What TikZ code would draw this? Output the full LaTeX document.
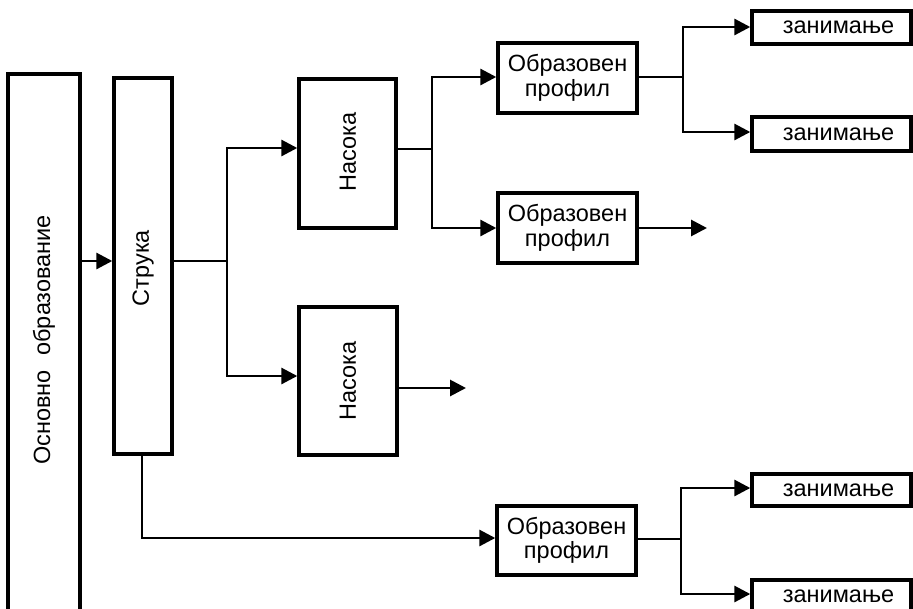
\documentclass[tikz,border=0pt]{standalone}
\usepackage{fontspec}
\setmainfont{Liberation Sans}
\usetikzlibrary{arrows.meta}
\tikzset{
  box/.style={draw, line width=3.4pt, inner sep=0pt, align=center,
    font=\fontsize{23.5}{24.5}\selectfont},
  lbl/.style={inner sep=0pt, font=\fontsize{23.5}{24.5}\selectfont},
  conn/.style={line width=2.9pt},
  arr/.style={line width=2.9pt, -{Triangle[length=16pt,width=16pt]}},
}
\begin{document}
\begin{tikzpicture}[x=1pt,y=-1pt]
\useasboundingbox (0,0) rectangle (913,608);
\clip (0,0) rectangle (913,608);
\fill[white] (0,0) rectangle (913,608);
% boxes
\node[box, minimum width=72pt, minimum height=546pt] (base) at (44,347) {};
\node[lbl, rotate=90] (baselbl) at (44,340) {Основно\hspace{0.35em} образование};
\node[box, minimum width=58pt, minimum height=376pt] (struka) at (143,266) {};
\node[lbl, rotate=90] (strukalbl) at (143,268) {Струка};
\node[box, minimum width=97pt, minimum height=149pt] (nas1) at (347.5,153.5) {};
\node[lbl, rotate=90] (nas1lbl) at (348,152) {Насока};
\node[box, minimum width=98pt, minimum height=148pt] (nas2) at (348,381) {};
\node[lbl, rotate=90] (nas2lbl) at (348,381) {Насока};
\node[box, minimum width=139pt, minimum height=70pt] (op1) at (567.5,78) {Образовен\\профил};
\node[box, minimum width=139pt, minimum height=70pt] (op2) at (567.5,228) {Образовен\\профил};
\node[box, minimum width=139pt, minimum height=69pt] (op3) at (566.5,540.5) {Образовен\\профил};
\node[box, minimum width=159pt, minimum height=33pt] (z1) at (831.5,27.5) {\hspace{14pt}занимање};
\node[box, minimum width=159pt, minimum height=34pt] (z2) at (831.5,134) {\hspace{14pt}занимање};
\node[box, minimum width=159pt, minimum height=32pt] (z3) at (831.5,490) {\hspace{14pt}занимање};
\node[box, minimum width=159pt, minimum height=32pt] (z4) at (831.5,596) {\hspace{14pt}занимање};
% junction coordinates
\coordinate (j0) at (0,261);
\coordinate (ja) at (227,261);
\coordinate (ya1) at (0,148);
\coordinate (ya2) at (0,376);
\coordinate (jb) at (432,149);
\coordinate (yb1) at (0,77);
\coordinate (yb2) at (0,228);
\coordinate (jc) at (683,77);
\coordinate (yc1) at (0,27);
\coordinate (yc2) at (0,132);
\coordinate (js) at (142,538);
\coordinate (jd) at (681,539);
\coordinate (yd1) at (0,488);
\coordinate (yd2) at (0,594);
\coordinate (e1) at (466,388);
\coordinate (e2) at (707,228);
% connectors
\draw[arr] (base.east |- j0) -- (struka.west |- j0);
\draw[conn] (struka.east |- j0) -- (ja);
\draw[arr] (ja) |- (nas1.west |- ya1);
\draw[arr] (ja) |- (nas2.west |- ya2);
\draw[conn] (nas1.east |- jb) -- (jb);
\draw[arr] (jb) |- (op1.west |- yb1);
\draw[arr] (jb) |- (op2.west |- yb2);
\draw[arr] (nas2.east |- e1) -- (e1);
\draw[arr] (op2.east |- e2) -- (e2);
\draw[conn] (op1.east |- jc) -- (jc);
\draw[arr] (jc) |- (z1.west |- yc1);
\draw[arr] (jc) |- (z2.west |- yc2);
\draw[arr] (struka.south -| js) -- (js) -- (op3.west |- js);
\draw[conn] (op3.east |- jd) -- (jd);
\draw[arr] (jd) |- (z3.west |- yd1);
\draw[arr] (jd) |- (z4.west |- yd2);
\end{tikzpicture}
\end{document}
